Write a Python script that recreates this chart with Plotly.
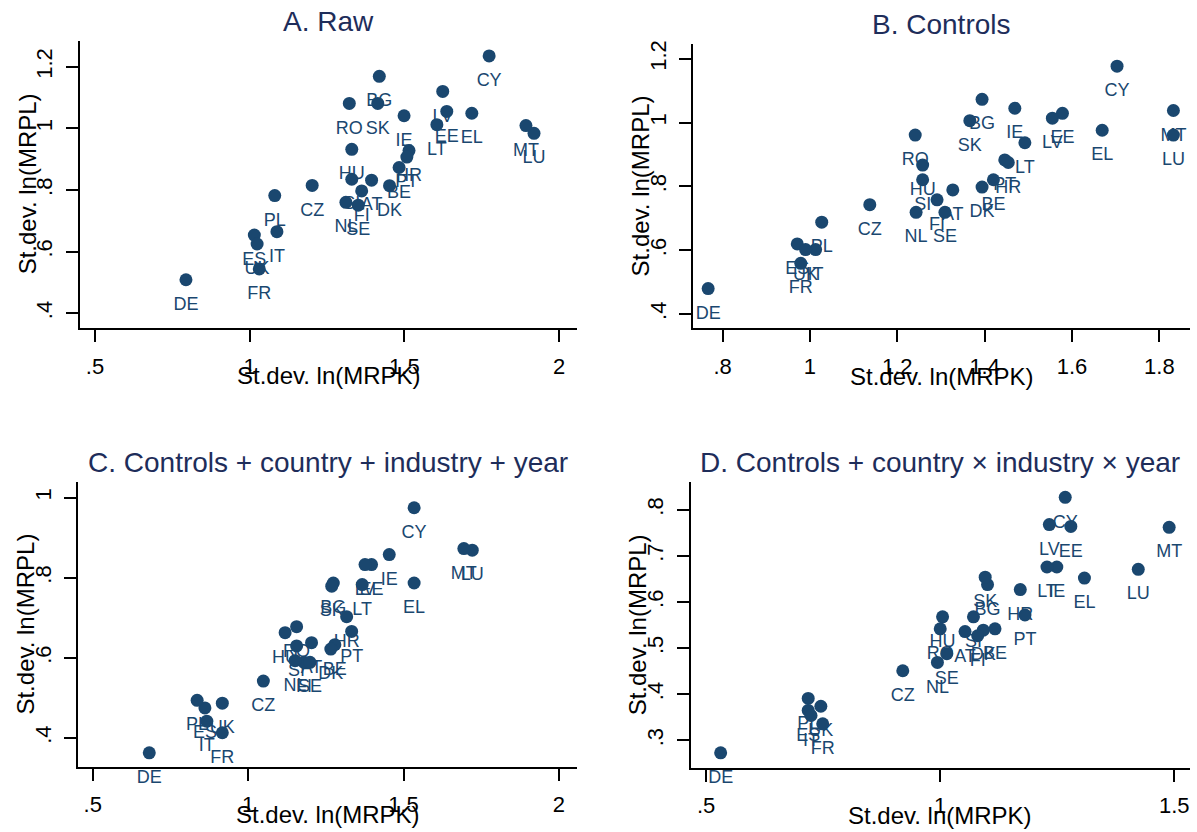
import plotly.graph_objects as go

W, H = 1197, 832

countries = ["AT", "BE", "BG", "CY", "CZ", "DE", "DK", "EE", "EL", "ES", "FI", "FR", "HR", "HU",
             "IE", "IT", "LT", "LU", "LV", "MT", "NL", "PL", "PT", "RO", "SE", "SI", "SK", "UK"]

# Panel A. Raw
a_x = [1.394, 1.483, 1.419, 1.774, 1.202, 0.794, 1.452, 1.637, 1.718, 1.015, 1.362, 1.031, 1.515, 1.330,
       1.499, 1.088, 1.605, 1.919, 1.624, 1.893, 1.311, 1.081, 1.508, 1.322, 1.351, 1.330, 1.414, 1.024]
a_y = [0.832, 0.873, 1.169, 1.235, 0.815, 0.509, 0.814, 1.055, 1.049, 0.654, 0.797, 0.544, 0.928, 0.932,
       1.041, 0.665, 1.012, 0.984, 1.120, 1.009, 0.760, 0.782, 0.907, 1.081, 0.751, 0.835, 1.081, 0.625]

# Panel B. Controls
b_x = [1.327, 1.420, 1.394, 1.703, 1.137, 0.767, 1.394, 1.578, 1.669, 0.971, 1.291, 0.979, 1.454, 1.258,
       1.469, 1.013, 1.492, 1.832, 1.555, 1.832, 1.243, 1.027, 1.446, 1.241, 1.309, 1.258, 1.366, 0.990]
b_y = [0.789, 0.821, 1.073, 1.177, 0.743, 0.480, 0.798, 1.029, 0.976, 0.620, 0.758, 0.559, 0.875, 0.867,
       1.045, 0.602, 0.937, 0.961, 1.014, 1.038, 0.719, 0.688, 0.883, 0.961, 0.719, 0.821, 1.006, 0.602]

# Panel C. Controls + country + industry + year
c_x = [1.204, 1.279, 1.274, 1.534, 1.049, 0.682, 1.266, 1.397, 1.534, 0.861, 1.180, 0.917, 1.317, 1.119,
       1.454, 0.867, 1.367, 1.721, 1.376, 1.694, 1.151, 0.836, 1.333, 1.156, 1.199, 1.156, 1.269, 0.917]
c_y = [0.638, 0.633, 0.787, 0.975, 0.542, 0.363, 0.622, 0.833, 0.787, 0.475, 0.589, 0.413, 0.703, 0.663,
       0.858, 0.442, 0.783, 0.869, 0.833, 0.873, 0.593, 0.494, 0.666, 0.678, 0.589, 0.630, 0.779, 0.487]

# Panel D. Controls + country x industry x year
d_x = [1.053, 1.117, 1.101, 1.267, 0.920, 0.531, 1.092, 1.279, 1.308, 0.718, 1.080, 0.749, 1.171, 1.005,
       1.249, 0.724, 1.228, 1.423, 1.233, 1.489, 0.994, 0.718, 1.181, 1.000, 1.014, 1.071, 1.096, 0.745]
d_y = [0.536, 0.542, 0.638, 0.827, 0.451, 0.273, 0.539, 0.764, 0.652, 0.365, 0.527, 0.336, 0.627, 0.568,
       0.676, 0.354, 0.676, 0.671, 0.768, 0.762, 0.469, 0.391, 0.572, 0.542, 0.488, 0.568, 0.654, 0.374]

titles = ["A. Raw", "B. Controls", "C. Controls + country + industry + year",
          "D. Controls + country \u00d7 industry \u00d7 year"]
x_title = "St.dev. ln(MRPK)"
y_title = "St.dev. ln(MRPL)"

a_xticks = [0.5, 1, 1.5, 2]
a_xlabels = [".5", "1", "1.5", "2"]
a_yticks = [0.4, 0.6, 0.8, 1, 1.2]
a_ylabels = [".4", ".6", ".8", "1", "1.2"]
b_xticks = [0.8, 1, 1.2, 1.4, 1.6, 1.8]
b_xlabels = [".8", "1", "1.2", "1.4", "1.6", "1.8"]
b_yticks = [0.4, 0.6, 0.8, 1, 1.2]
b_ylabels = [".4", ".6", ".8", "1", "1.2"]
c_xticks = [0.5, 1, 1.5, 2]
c_xlabels = [".5", "1", "1.5", "2"]
c_yticks = [0.4, 0.6, 0.8, 1]
c_ylabels = [".4", ".6", ".8", "1"]
d_xticks = [0.5, 1, 1.5]
d_xlabels = [".5", "1", "1.5"]
d_yticks = [0.3, 0.4, 0.5, 0.6, 0.7, 0.8]
d_ylabels = [".3", ".4", ".5", ".6", ".7", ".8"]

FONT = "Liberation Sans, Arial, Helvetica, sans-serif"
MARK = "#1a476f"
TITLE_C = "#1e2d5a"

# plot regions in pixels: left, right, top, bottom ; axis ranges
panels = [
    dict(x=a_x, y=a_y, px=(80, 577, 36.7, 325.7), xr=(0.4515, 2.058), yr=(0.352, 1.285),
         xt=(a_xticks, a_xlabels), yt=(a_yticks, a_ylabels)),
    dict(x=b_x, y=b_y, px=(693.3, 1190, 40, 326), xr=(0.733, 1.870), yr=(0.355, 1.247),
         xt=(b_xticks, b_xlabels), yt=(b_yticks, b_ylabels)),
    dict(x=c_x, y=c_y, px=(78.3, 576.7, 480, 766.5), xr=(0.4537, 2.057), yr=(0.328, 1.040),
         xt=(c_xticks, c_xlabels), yt=(c_yticks, c_ylabels)),
    dict(x=d_x, y=d_y, px=(690.7, 1190, 480, 767.3), xr=(0.467, 1.5335), yr=(0.241, 0.861),
         xt=(d_xticks, d_xlabels), yt=(d_yticks, d_ylabels)),
]

fig = go.Figure()
layout = dict(width=W, height=H, margin=dict(l=0, r=0, t=0, b=0),
              paper_bgcolor="white", plot_bgcolor="white", showlegend=False,
              font=dict(family=FONT, color="black"))
annotations = []

for i, p in enumerate(panels):
    n = "" if i == 0 else str(i + 1)
    l, r, t, b = p["px"]
    # labels (placed below each point; transparent larger marker sets the offset)
    fig.add_trace(go.Scatter(
        x=p["x"], y=p["y"], text=countries, mode="markers+text",
        textposition="bottom center", cliponaxis=False,
        marker=dict(size=25, color="rgba(0,0,0,0)", line=dict(width=0)),
        textfont=dict(family=FONT, size=18, color=MARK),
        xaxis="x" + n, yaxis="y" + n, hoverinfo="skip"))
    # points
    fig.add_trace(go.Scatter(
        x=p["x"], y=p["y"], mode="markers", cliponaxis=False,
        marker=dict(size=13, color=MARK, line=dict(width=0)),
        xaxis="x" + n, yaxis="y" + n, hoverinfo="skip"))
    common = dict(showline=True, linecolor="black", linewidth=2, ticks="outside",
                  ticklen=12, tickwidth=2, tickcolor="black", showgrid=False, zeroline=False,
                  tickfont=dict(family=FONT, size=22, color="black"), fixedrange=True)
    layout["xaxis" + n] = dict(common, domain=[l / W, r / W], range=list(p["xr"]),
                               tickvals=p["xt"][0], ticktext=p["xt"][1],
                               anchor="y" + n, ticklabelstandoff=5)
    layout["yaxis" + n] = dict(common, domain=[1 - b / H, 1 - t / H], range=list(p["yr"]),
                               tickvals=p["yt"][0], ticktext=p["yt"][1],
                               anchor="x" + n, tickangle=-90, ticklabelstandoff=5)
    cx = (l + r) / 2
    annotations.append(dict(text=titles[i], x=cx / W, y=1 - (t - 19) / H, xref="paper", yref="paper",
                            xanchor="center", yanchor="middle", showarrow=False,
                            font=dict(family=FONT, size=28, color=TITLE_C)))
    annotations.append(dict(text=x_title, x=cx / W, y=1 - (b + 48) / H, xref="paper", yref="paper",
                            xanchor="center", yanchor="middle", showarrow=False,
                            font=dict(family=FONT, size=24, color="black")))
    annotations.append(dict(text=y_title, x=(l - 53) / W, y=1 - ((t + b) / 2) / H, xref="paper",
                            yref="paper", xanchor="center", yanchor="middle", showarrow=False,
                            textangle=-90, font=dict(family=FONT, size=24, color="black")))

layout["annotations"] = annotations
fig.update_layout(**layout)
# remove the default page margin so the figure sits at the window's top-left corner
fig.write_html("out.html", config={"displayModeBar": False, "staticPlot": True},
               post_script="document.body.style.margin='0';")
